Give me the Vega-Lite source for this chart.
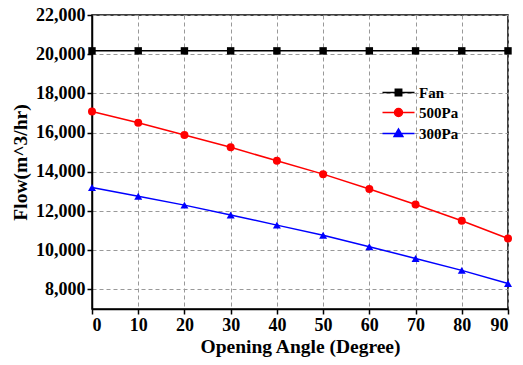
{
  "$schema": "https://vega.github.io/schema/vega-lite/v6.json",
  "width": 416,
  "height": 294,
  "autosize": "none",
  "padding": {"left": 92, "top": 15, "right": 15, "bottom": 56},
  "background": "white",
  "config": {
    "view": {"stroke": "black", "strokeWidth": 1.5},
    "font": "Liberation Serif",
    "axis": {
      "labelFont": "Liberation Serif", "labelFontWeight": "bold", "labelFontSize": 18, "labelColor": "black",
      "titleFont": "Liberation Serif", "titleFontWeight": "bold", "titleFontSize": 19.5, "titleColor": "black",
      "domainColor": "black", "domainWidth": 1.5, "tickColor": "black", "tickWidth": 1.5, "tickSize": 5,
      "gridColor": "#999999", "gridDash": [4, 3], "gridWidth": 1, "labelPadding": 2
    },
    "legend": {
      "title": null, "orient": "none", "legendX": 299, "legendY": 70,
      "labelFont": "Liberation Serif", "labelFontWeight": "bold", "labelFontSize": 15, "labelColor": "black",
      "symbolSize": 64, "labelOffset": 13, "rowPadding": 4, "padding": 0, "symbolStrokeWidth": 1.5, "symbolOpacity": 1
    }
  },
  "data": {
    "values": [
      {"angle": 0, "flow": 20170, "series": "Fan"},
      {"angle": 10, "flow": 20170, "series": "Fan"},
      {"angle": 20, "flow": 20170, "series": "Fan"},
      {"angle": 30, "flow": 20170, "series": "Fan"},
      {"angle": 40, "flow": 20170, "series": "Fan"},
      {"angle": 50, "flow": 20170, "series": "Fan"},
      {"angle": 60, "flow": 20170, "series": "Fan"},
      {"angle": 70, "flow": 20170, "series": "Fan"},
      {"angle": 80, "flow": 20170, "series": "Fan"},
      {"angle": 90, "flow": 20170, "series": "Fan"},
      {"angle": 0, "flow": 17080, "series": "500Pa"},
      {"angle": 10, "flow": 16500, "series": "500Pa"},
      {"angle": 20, "flow": 15880, "series": "500Pa"},
      {"angle": 30, "flow": 15250, "series": "500Pa"},
      {"angle": 40, "flow": 14560, "series": "500Pa"},
      {"angle": 50, "flow": 13880, "series": "500Pa"},
      {"angle": 60, "flow": 13120, "series": "500Pa"},
      {"angle": 70, "flow": 12330, "series": "500Pa"},
      {"angle": 80, "flow": 11500, "series": "500Pa"},
      {"angle": 90, "flow": 10600, "series": "500Pa"},
      {"angle": 0, "flow": 13200, "series": "300Pa"},
      {"angle": 10, "flow": 12750, "series": "300Pa"},
      {"angle": 20, "flow": 12300, "series": "300Pa"},
      {"angle": 30, "flow": 11800, "series": "300Pa"},
      {"angle": 40, "flow": 11280, "series": "300Pa"},
      {"angle": 50, "flow": 10760, "series": "300Pa"},
      {"angle": 60, "flow": 10180, "series": "300Pa"},
      {"angle": 70, "flow": 9580, "series": "300Pa"},
      {"angle": 80, "flow": 8970, "series": "300Pa"},
      {"angle": 90, "flow": 8300, "series": "300Pa"}
    ]
  },
  "encoding": {
    "x": {
      "field": "angle", "type": "quantitative",
      "scale": {"domain": [0, 90], "nice": false},
      "axis": {"values": [0, 10, 20, 30, 40, 50, 60, 70, 80, 90], "title": "Opening Angle (Degree)", "titlePadding": 3}
    },
    "y": {
      "field": "flow", "type": "quantitative",
      "scale": {"domain": [7000, 22000], "nice": false},
      "axis": {"values": [8000, 10000, 12000, 14000, 16000, 18000, 20000, 22000], "format": ",d", "title": "Flow(m^3/hr)", "titlePadding": 5}
    },
    "color": {
      "field": "series", "type": "nominal",
      "scale": {"domain": ["Fan", "500Pa", "300Pa"], "range": ["#000000", "#ff0000", "#0000ff"]}
    }
  },
  "layer": [
    {"mark": {"type": "line", "strokeWidth": 1.5}},
    {
      "transform": [{"filter": "datum.flow < 0"}],
      "mark": {"type": "point", "filled": true, "opacity": 1},
      "encoding": {
        "stroke": {
          "field": "series", "type": "nominal",
          "scale": {"domain": ["Fan", "500Pa", "300Pa"], "range": ["#000000", "#ff0000", "#0000ff"]}
        },
        "shape": {
          "field": "series", "type": "nominal",
          "scale": {"domain": ["Fan", "500Pa", "300Pa"], "range": ["M-4,0H4M-0.8,-0.8H0.8V0.8H-0.8Z", "M-4,0H4M-1,0A1,1,0,1,0,1,0A1,1,0,1,0,-1,0Z", "M-4,0H4M-1.1,0.75L0,-1.15L1.1,0.75Z"]}
        }
      }
    },
    {
      "transform": [{"filter": "datum.series === 'Fan'"}],
      "mark": {"type": "point", "filled": true, "opacity": 1, "shape": "square", "size": 55}
    },
    {
      "transform": [{"filter": "datum.series === '500Pa'"}],
      "mark": {"type": "point", "filled": true, "opacity": 1, "shape": "circle", "size": 64}
    },
    {
      "transform": [{"filter": "datum.series === '300Pa'"}],
      "mark": {"type": "point", "filled": true, "opacity": 1, "shape": "triangle-up", "size": 64}
    }
  ]
}
